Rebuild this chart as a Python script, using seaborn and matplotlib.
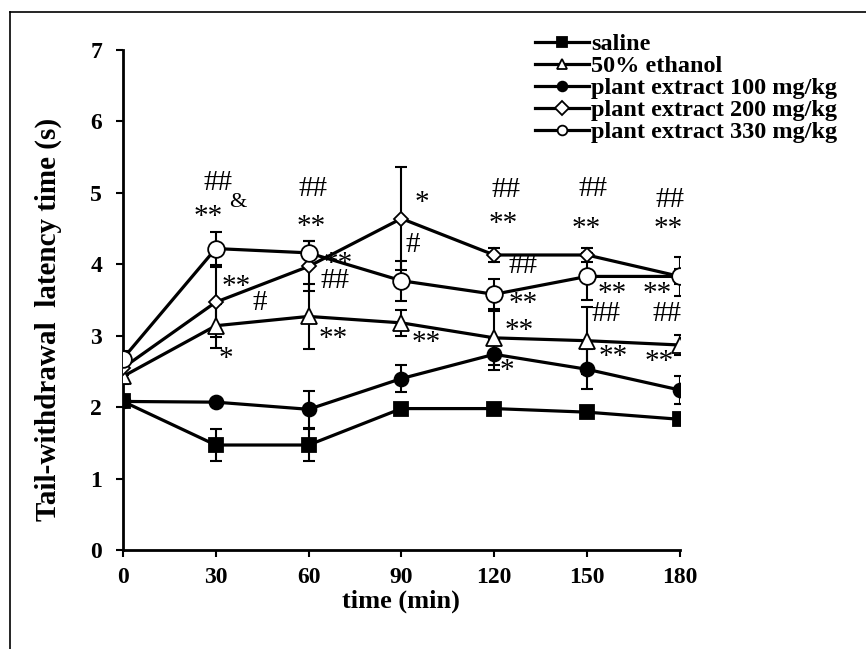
import numpy as np
import pandas as pd
import matplotlib
matplotlib.use("Agg")
import matplotlib.pyplot as plt
from matplotlib.lines import Line2D
import seaborn as sns

# data
times = [0, 30, 60, 90, 120, 150, 180]
series_names = ["saline", "50% ethanol", "plant extract 100 mg/kg",
                "plant extract 200 mg/kg", "plant extract 330 mg/kg"]
saline = [2.08, 1.47, 1.47, 1.98, 1.98, 1.93, 1.83]
ethanol = [2.43, 3.14, 3.27, 3.18, 2.97, 2.93, 2.87]
plant100 = [2.08, 2.07, 1.97, 2.4, 2.74, 2.53, 2.24]
plant200 = [2.55, 3.47, 3.97, 4.64, 4.13, 4.13, 3.83]
plant330 = [2.68, 4.22, 4.16, 3.77, 3.58, 3.83, 3.83]
saline_err = [0.05, 0.22, 0.22, 0.03, 0.03, 0.03, 0.03]
ethanol_err = [0.1, 0.31, 0.45, 0.18, 0.38, 0.47, 0.14]
plant100_err = [0.05, 0.05, 0.26, 0.19, 0.22, 0.28, 0.2]
plant200_err = [0.1, 0.49, 0.35, 0.72, 0.1, 0.1, 0.1]
plant330_err = [0.1, 0.23, 0.17, 0.28, 0.21, 0.33, 0.27]

# significance marks: (x, y, text)
annot_text = ["##", "**", "&", "##", "**", "**", "##", "**", "#", "*", "**",
              "*", "#", "##", "**", "##", "**", "##", "**",
              "##", "**", "**", "*", "**", "##", "**", "##", "**", "**", "**"]
annot_x = [30.8, 27.6, 37.0, 61.5, 61.0, 69.6, 68.5, 36.5, 44.1, 33.3, 67.8,
           96.5, 93.8, 123.8, 122.9, 152.0, 149.6, 176.8, 176.2,
           129.4, 129.4, 128.1, 124.0, 158.3, 156.3, 172.7, 175.9, 158.5, 173.5, 98.1]
annot_y = [5.14, 4.66, 4.86, 5.06, 4.52, 4.0, 3.76, 3.68, 3.46, 2.67, 2.96,
           4.86, 4.27, 5.04, 4.57, 5.06, 4.5, 4.9, 4.49,
           3.97, 3.44, 3.07, 2.5, 3.58, 3.31, 3.58, 3.3, 2.7, 2.63, 2.9]

plt.rcParams["font.family"] = ["Liberation Serif", "DejaVu Serif"]

df = pd.DataFrame({
    "time": times * 5,
    "latency": saline + ethanol + plant100 + plant200 + plant330,
    "group": sum([[n] * len(times) for n in series_names], []),
})
errs = {
    "saline": saline_err, "50% ethanol": ethanol_err,
    "plant extract 100 mg/kg": plant100_err,
    "plant extract 200 mg/kg": plant200_err,
    "plant extract 330 mg/kg": plant330_err,
}
styles = {
    "saline": dict(marker="s", mfc="black", ms=9.5),
    "50% ethanol": dict(marker="^", mfc="white", ms=12),
    "plant extract 100 mg/kg": dict(marker="o", mfc="black", ms=10),
    "plant extract 200 mg/kg": dict(marker="D", mfc="white", ms=7.5),
    "plant extract 330 mg/kg": dict(marker="o", mfc="white", ms=12),
}

fig = plt.figure(figsize=(8.66, 6.49), dpi=100)
ax = fig.add_axes([0.142, 0.1525, 0.643, 0.7705])

for name in series_names:
    sub = df[df["group"] == name]
    ax.errorbar(sub["time"], sub["latency"], yerr=errs[name], fmt="none",
                ecolor="black", elinewidth=1.5, capsize=4.5, capthick=1.5, zorder=2)
    st = styles[name]
    sns.lineplot(data=sub, x="time", y="latency", ax=ax, color="black", lw=2.3,
                 marker=st["marker"], markersize=st["ms"], markerfacecolor=st["mfc"],
                 markeredgecolor="black", markeredgewidth=1.3, label=name, zorder=3)

for t, x, y in zip(annot_text, annot_x, annot_y):
    fs = 16 if t == "&" else 21
    ax.text(x, y, t, ha="center", va="center", fontsize=fs, color="black", zorder=4)

ax.set_xlim(0, 180)
ax.set_ylim(0, 7)
ax.set_xticks(times)
ax.set_yticks(range(8))
for s in ["top", "right"]:
    ax.spines[s].set_visible(False)
for s in ["left", "bottom"]:
    ax.spines[s].set_linewidth(2)
    ax.spines[s].set_color("black")
ax.tick_params(axis="both", direction="out", length=5, width=1.5, labelsize=17)
ax.tick_params(axis="x", pad=7)
ax.tick_params(axis="y", pad=10)
for lab in ax.get_xticklabels() + ax.get_yticklabels():
    lab.set_fontweight("bold")
ax.set_xlabel("time (min)", fontsize=19, fontweight="bold", labelpad=1)
ax.set_ylabel("Tail-withdrawal  latency time (s)", fontsize=21, fontweight="bold")
ax.yaxis.set_label_coords(-0.11, 0.462)
ax.set_facecolor("white")

handles, labels = ax.get_legend_handles_labels()
ax.legend_.remove()
leg = fig.legend(handles, labels, loc="upper left", bbox_to_anchor=(0.607, 0.964),
                 frameon=False, prop={"size": 17.5, "weight": "bold"}, handlelength=2.2,
                 handletextpad=0.1, labelspacing=0.0, borderaxespad=0)
for h in leg.legend_handles:
    h.set_markersize(7)
    h.set_linewidth(2.3)

# outer frame
fig.add_artist(Line2D([0.012, 1.0], [0.982, 0.982], color="black", lw=1.2))
fig.add_artist(Line2D([0.012, 0.012], [0.0, 0.982], color="black", lw=1.2))

fig.savefig("out.png", dpi=100)
